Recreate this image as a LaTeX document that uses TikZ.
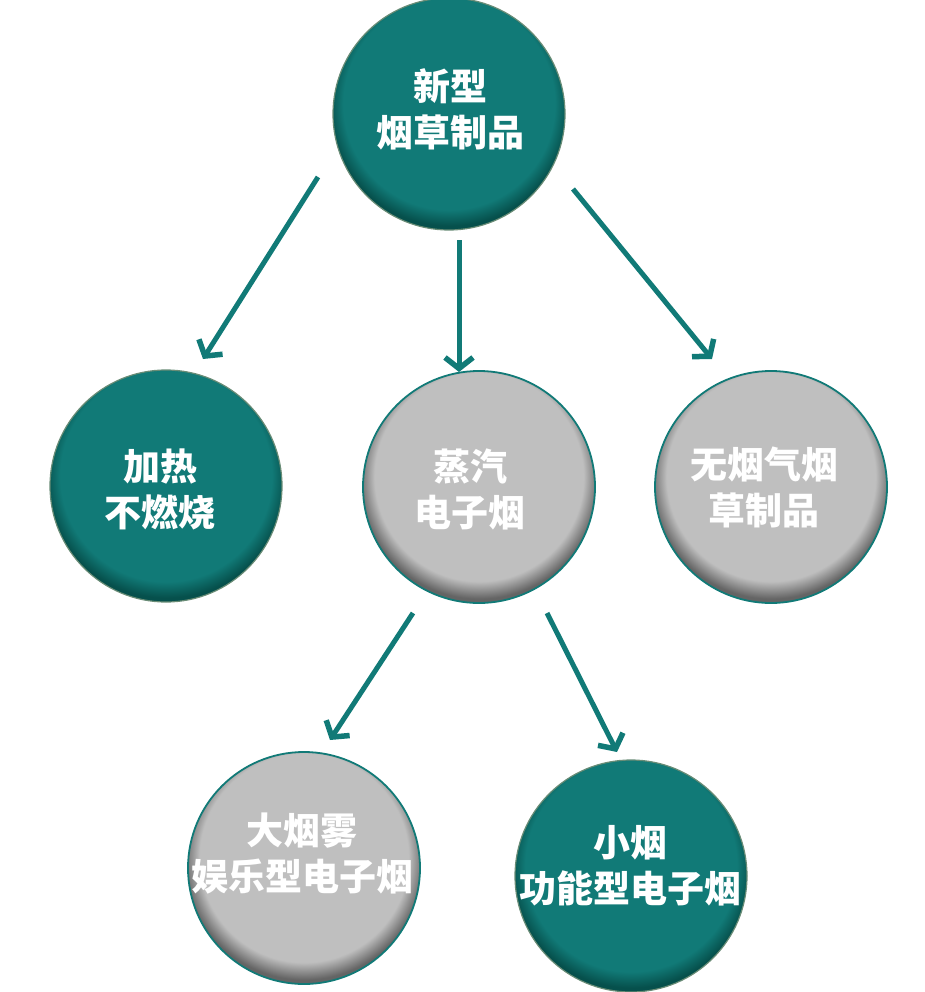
\documentclass[tikz,border=0pt]{standalone}
\usepackage{fontspec}
\newfontfamily\cjk{Noto Sans CJK SC}
\usetikzlibrary{arrows.meta}
\definecolor{tealA}{RGB}{17,122,119}
\definecolor{tealB}{RGB}{6,80,76}
\definecolor{grayA}{RGB}{191,191,191}
\definecolor{grayB}{RGB}{100,100,100}
\definecolor{rimgreen}{RGB}{105,140,118}
\pgfdeclareradialshading{tealball}{\pgfpoint{0bp}{4bp}}{color(0bp)=(tealA); color(22.8bp)=(tealA); color(26bp)=(tealB); color(50bp)=(tealB)}
\pgfdeclareradialshading{grayball}{\pgfpoint{0bp}{4bp}}{color(0bp)=(grayA); color(22.5bp)=(grayA); color(26bp)=(grayB); color(50bp)=(grayB)}
\tikzset{
  ball/.style={circle, minimum size=232pt, inner sep=0pt, shade},
  tealcircle/.style={ball, shading=tealball, draw=rimgreen, line width=1.2pt},
  graycircle/.style={ball, shading=grayball, draw=tealA, line width=1.8pt},
  label text/.style={text=white, align=center, inner sep=0pt,
    font=\cjk\bfseries\fontsize{37}{46}\selectfont},
  conn/.style={draw=tealA, line width=5pt,
    -{Straight Barb[length=11pt, width=28pt, line width=5.5pt]}}
}
\begin{document}
\begin{tikzpicture}[x=1pt, y=-1pt]
\useasboundingbox (0,0) rectangle (925,992);
% circles
\node[tealcircle] (top) at (449,114) {};
\node[tealcircle] (left) at (166,486) {};
\node[graycircle] (mid) at (479,487) {};
\node[graycircle] (right) at (771,487) {};
\node[graycircle] (bl) at (304,868) {};
\node[tealcircle] (br) at (631,876) {};
% texts
\node[label text] (topT) at (450,109) {新型\\烟草制品};
\node[label text] (leftT) at (160,489) {加热\\不燃烧};
\node[label text] (midT) at (470,489) {蒸汽\\电子烟};
\node[label text] (rightT) at (764,487) {无烟气烟\\草制品};
\node[label text] (blT) at (302,854) {大烟雾\\娱乐型电子烟};
\node[label text] (brT) at (630,866) {小烟\\功能型电子烟};
% arrow ends
\coordinate (a1s) at (318,177);
\coordinate (a1e) at (203,359);
\coordinate (a2s) at (459,240);
\coordinate (a2e) at (459,372);
\coordinate (a3s) at (573,189);
\coordinate (a3e) at (712,359);
\coordinate (a4s) at (413,613);
\coordinate (a4e) at (330,740);
\coordinate (a5s) at (547,613);
\coordinate (a5e) at (617,752);
\draw[conn] (a1s) -- (a1e);
\draw[conn] (a2s) -- (a2e);
\draw[conn] (a3s) -- (a3e);
\draw[conn] (a4s) -- (a4e);
\draw[conn] (a5s) -- (a5e);
\end{tikzpicture}
\end{document}
